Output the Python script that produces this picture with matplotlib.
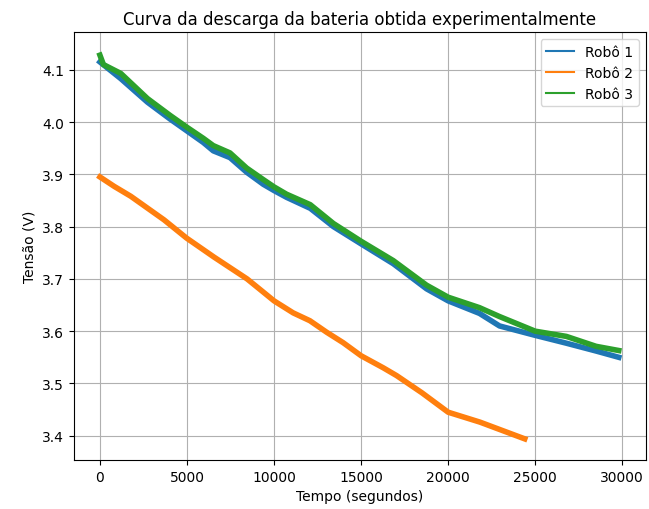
import matplotlib
matplotlib.use("Agg")
import matplotlib.pyplot as plt

# tempo (s) e tensão (V)
t_robo1 = [0, 1200, 2730, 4020, 5000, 5935, 6510, 7470, 8430, 9380, 10000, 10720,
           12080, 13410, 15000, 16850, 18760, 20000, 21800, 22950, 25000, 26790, 28500, 29800]
v_robo1 = [4.115, 4.083, 4.038, 4.006, 3.983, 3.961, 3.945, 3.932, 3.904, 3.881, 3.869, 3.856,
           3.835, 3.800, 3.767, 3.729, 3.681, 3.658, 3.634, 3.610, 3.592, 3.577, 3.562, 3.550]

t_robo2 = [0, 820, 1775, 3680, 4980, 6540, 8450, 9190, 10000, 11100, 12060, 13020,
           13970, 15000, 16270, 17040, 18500, 20000, 21830, 24400]
v_robo2 = [3.895, 3.877, 3.858, 3.813, 3.778, 3.742, 3.700, 3.680, 3.658, 3.635, 3.620, 3.598,
           3.578, 3.553, 3.530, 3.515, 3.482, 3.445, 3.426, 3.394]

t_robo3 = [0, 200, 1200, 2730, 4020, 5000, 5935, 6510, 7470, 8430, 9380, 10000, 10720,
           12080, 13410, 15000, 16850, 18760, 20000, 21800, 22950, 25000, 26790, 28500, 29800]
v_robo3 = [4.128, 4.110, 4.093, 4.045, 4.013, 3.990, 3.969, 3.955, 3.941, 3.912, 3.890, 3.876, 3.862,
           3.842, 3.806, 3.772, 3.735, 3.688, 3.665, 3.645, 3.628, 3.600, 3.590, 3.571, 3.563]

fig, ax = plt.subplots(figsize=(6.49, 5.10), dpi=100)
fig.subplots_adjust(left=0.114, right=0.995, bottom=0.096, top=0.935)

ax.plot(t_robo1, v_robo1, color="#1f77b4", linewidth=4, label="Robô 1")
ax.plot(t_robo2, v_robo2, color="#ff7f0e", linewidth=4, label="Robô 2")
ax.plot(t_robo3, v_robo3, color="#2ca02c", linewidth=4, label="Robô 3")

ax.set_xlim(-1490, 31350)
ax.set_ylim(3.3535, 4.172)
ax.set_title("Curva da descarga da bateria obtida experimentalmente")
ax.set_xlabel("Tempo (segundos)")
ax.set_ylabel("Tensão (V)")
ax.grid(True)

leg = ax.legend(loc="upper right")
for line in leg.get_lines():
    line.set_linewidth(1.5)

fig.savefig("out.png")
